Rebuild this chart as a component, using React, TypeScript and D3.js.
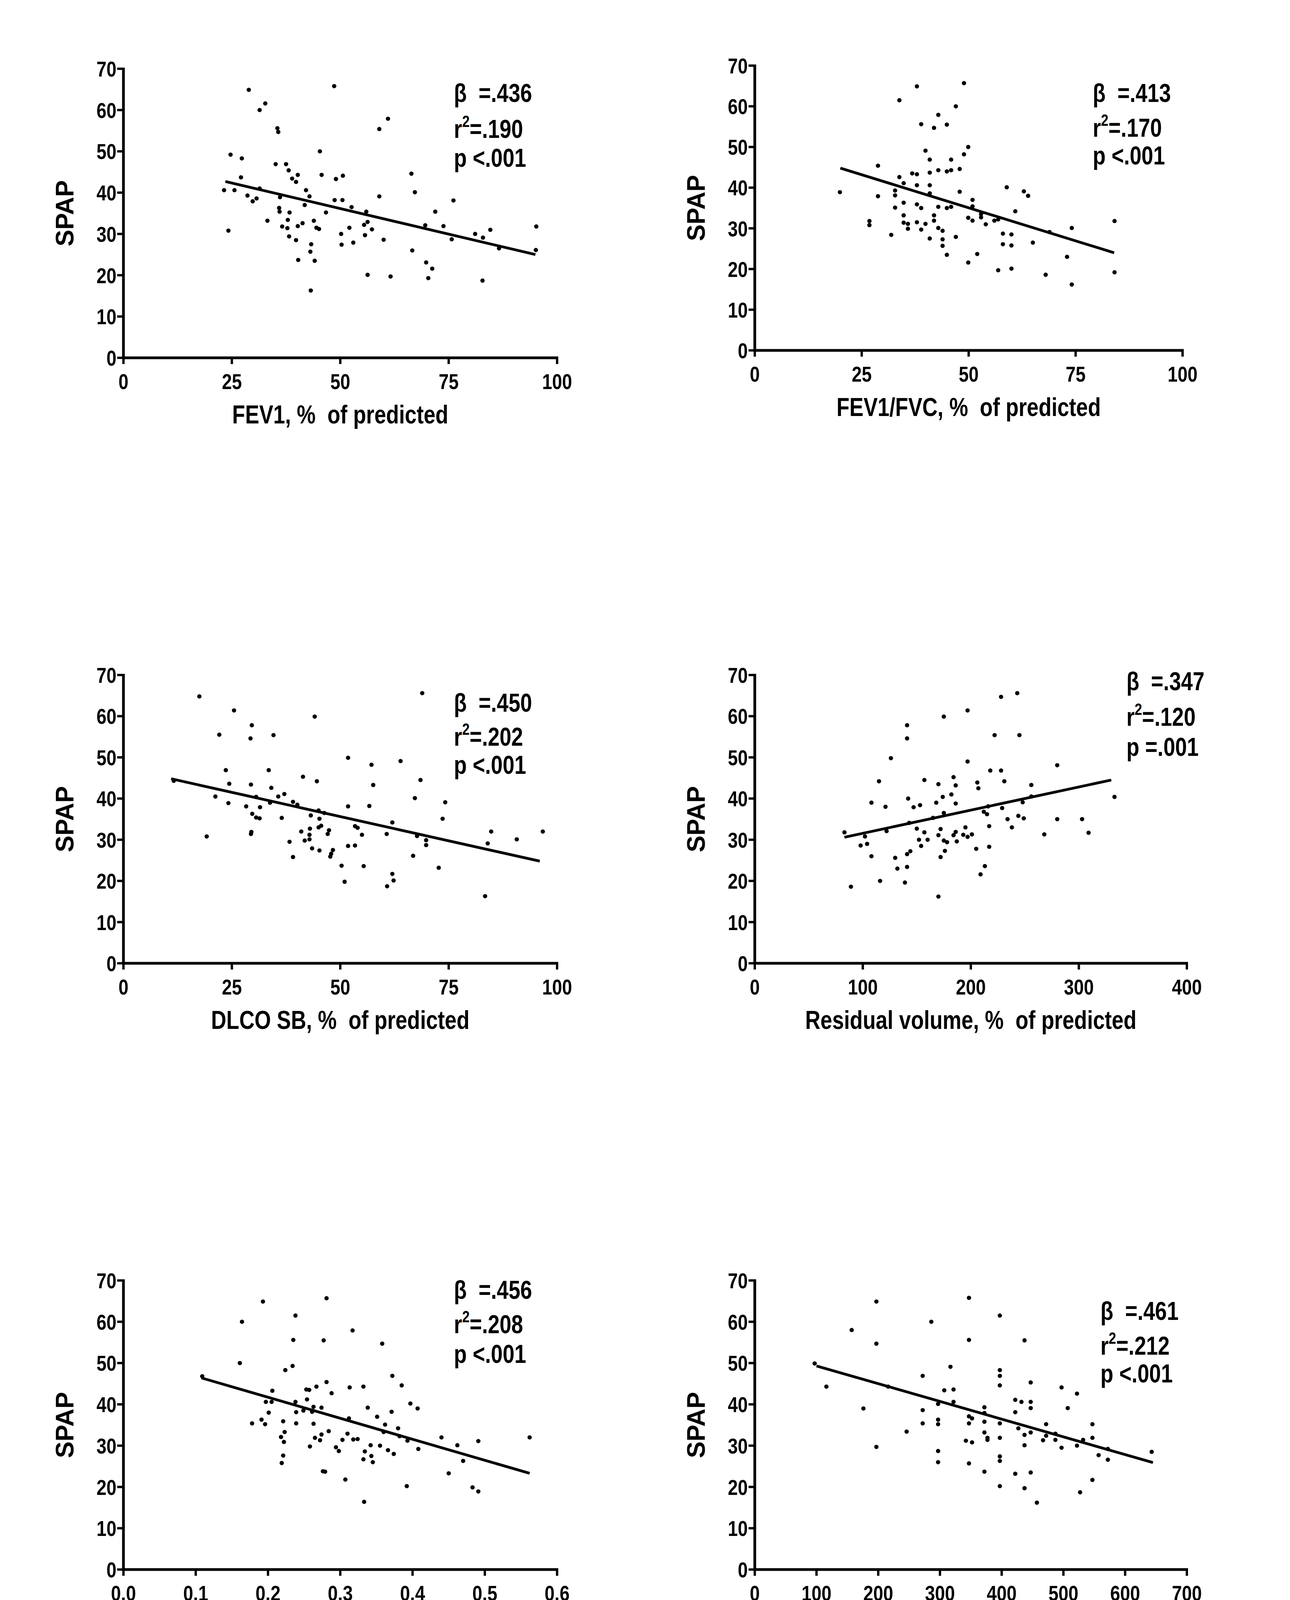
import * as d3 from 'd3';

type Pt = [number, number];

// FEV1, % of predicted vs SPAP
const fev1Points: Pt[] = [
  [28.9,64.9],[48.6,65.8],[32.7,61.6],[31.4,60.0],[61.0,57.9],[59.0,55.4],[35.5,55.6],[35.7,54.7],
  [24.7,49.2],[45.3,50.0],[27.3,48.3],[35.1,46.9],[37.5,46.9],[38.1,45.4],[66.4,44.6],[40.2,44.3],
  [45.7,44.3],[50.6,44.1],[27.1,43.7],[38.9,43.4],[49.0,43.3],[39.8,42.6],[23.2,40.6],[25.6,40.6],
  [31.4,41.0],[42.1,40.6],[67.2,40.1],[28.6,39.3],[42.9,39.1],[59.0,39.1],[36.1,38.9],[30.7,38.6],
  [29.8,37.9],[48.7,38.2],[50.5,38.2],[76.1,38.1],[41.8,37.0],[52.6,36.5],[35.9,36.3],[36.0,35.4],
  [56.0,35.4],[38.3,35.2],[46.7,35.2],[71.9,35.4],[37.9,33.4],[33.2,33.2],[43.9,33.2],[56.3,32.9],
  [41.3,32.6],[55.5,32.2],[69.6,32.1],[73.8,31.9],[95.2,31.8],[36.6,31.8],[40.2,31.9],[37.8,31.4],
  [52.1,31.5],[44.5,31.5],[45.1,31.2],[57.3,31.1],[84.6,31.0],[24.2,30.8],[50.2,30.0],[55.7,29.7],
  [81.1,30.0],[38.2,29.4],[82.9,29.1],[75.7,28.7],[60.0,28.6],[39.8,28.5],[53.0,27.9],[43.3,27.5],
  [50.3,27.4],[86.6,26.5],[95.1,26.1],[66.6,26.0],[43.1,25.7],[40.3,23.7],[44.1,23.5],[69.8,23.1],
  [71.2,21.6],[56.3,20.1],[61.6,19.7],[70.3,19.3],[82.8,18.7],[43.2,16.3],
];
const fev1Fit: Pt[] = [[23.5, 42.7], [95, 25.0]];

// FEV1/FVC, % of predicted vs SPAP
const ratioPoints: Pt[] = [
  [48.9,65.7],[37.9,64.9],[33.8,61.5],[47.0,60.0],[42.9,57.9],[38.9,55.6],[44.9,55.5],[41.9,54.7],
  [49.9,50.0],[39.9,49.1],[48.9,48.2],[40.9,46.9],[45.9,46.9],[28.8,45.4],[47.9,44.6],[42.9,44.3],
  [45.9,44.3],[44.9,44.0],[40.9,43.7],[36.8,43.5],[37.9,43.3],[33.8,42.6],[34.8,41.1],[37.9,40.6],
  [40.9,40.6],[58.9,40.1],[62.9,39.1],[19.9,38.9],[32.8,39.3],[47.9,39.0],[32.8,38.1],[28.8,37.9],
  [63.9,38.0],[40.9,38.6],[50.9,37.0],[34.8,36.3],[37.9,35.9],[42.9,35.3],[45.9,35.3],[32.8,35.1],
  [38.9,35.0],[44.9,35.0],[50.9,35.4],[60.9,34.2],[52.9,33.5],[34.8,33.2],[41.9,33.2],[52.9,32.7],
  [49.9,32.6],[56.9,32.2],[26.8,31.8],[41.9,31.9],[50.9,31.9],[56.0,31.9],[37.9,31.5],[34.8,31.4],
  [35.8,31.1],[39.9,31.1],[84.1,31.8],[54.0,31.0],[26.8,30.8],[42.9,30.1],[74.1,30.1],[35.8,29.9],
  [43.9,29.4],[38.9,29.7],[68.9,29.1],[58.0,28.7],[60.0,28.5],[31.9,28.4],[47.0,27.9],[40.9,27.5],
  [43.9,27.3],[65.0,26.5],[58.0,26.1],[60.0,25.8],[43.9,25.7],[52.0,23.7],[44.9,23.5],[73.0,23.0],
  [49.9,21.6],[60.0,20.1],[56.9,19.7],[84.1,19.2],[68.0,18.6],[74.1,16.2],
];
const ratioFit: Pt[] = [[20, 44.8], [84, 24.0]];

// DLCO SB, % of predicted vs SPAP
const dlcoPoints: Pt[] = [
  [68.9,65.6],[17.5,64.8],[25.5,61.4],[44.1,59.9],[29.6,57.8],[29.3,54.6],[22.1,55.5],[34.6,55.4],
  [51.8,49.9],[63.9,49.1],[57.2,48.2],[23.6,46.9],[33.5,46.9],[41.4,45.3],[68.5,44.5],[44.6,44.2],
  [24.4,43.6],[29.4,43.4],[57.6,43.3],[34.1,42.6],[11.6,44.3],[37.1,41.1],[35.7,40.5],[21.2,40.5],
  [30.6,40.4],[67.2,40.1],[39.1,39.2],[74.2,39.1],[33.8,39.0],[24.2,38.9],[40.1,38.5],[28.3,38.1],
  [51.8,38.1],[56.7,38.2],[31.5,37.9],[45.0,37.1],[29.7,36.3],[43.2,35.9],[46.3,36.5],[30.6,35.4],
  [31.4,35.2],[36.5,35.3],[45.2,35.1],[73.6,35.1],[62.0,34.2],[45.6,33.4],[45.0,33.0],[53.4,33.3],
  [54.0,32.9],[43.0,32.7],[47.4,32.3],[84.8,32.0],[96.7,32.0],[41.0,32.0],[29.5,31.9],[29.4,31.4],
  [47.1,31.4],[60.7,31.4],[55.0,31.2],[42.9,31.2],[67.7,30.9],[19.2,30.8],[69.8,29.9],[90.7,30.1],
  [42.9,30.1],[41.8,29.8],[38.3,29.5],[84.0,29.1],[69.8,28.7],[51.8,28.5],[53.4,28.6],[43.5,27.9],
  [45.2,27.4],[48.3,27.5],[47.9,26.6],[66.8,26.1],[47.7,25.9],[39.1,25.8],[50.3,23.7],[55.4,23.6],
  [72.7,23.2],[62.0,21.7],[62.3,20.1],[51.0,19.8],[60.8,18.7],[83.4,16.3],
];
const dlcoFit: Pt[] = [[11, 44.8], [96, 24.8]];

// Residual volume, % of predicted vs SPAP
const rvPoints: Pt[] = [
  [243,65.6],[228,64.7],[197,61.4],[175,59.9],[141,57.8],[141,54.6],[222,55.4],[245,55.4],
  [126,49.8],[197,49.0],[280,48.1],[218,46.8],[228,46.8],[184,45.2],[115,44.2],[157,44.5],
  [206,43.9],[170,43.5],[231,44.2],[186,43.2],[207,42.5],[256,43.3],[182,41.0],[174,40.4],
  [142,40.0],[256,40.5],[333,40.4],[108,39.0],[168,39.0],[186,38.8],[153,38.4],[121,38.0],
  [147,37.9],[248,39.1],[229,37.7],[216,38.1],[212,36.8],[175,36.5],[215,36.2],[165,35.3],
  [244,35.8],[249,35.2],[234,35.0],[280,35.0],[303,35.0],[143,34.1],[217,33.3],[238,33.0],
  [195,33.0],[150,32.7],[172,32.6],[122,32.1],[157,31.8],[186,31.9],[83,31.8],[309,31.7],
  [268,31.3],[201,31.3],[193,31.2],[170,31.1],[184,31.1],[102,30.8],[197,30.7],[152,30.0],
  [160,30.0],[175,29.8],[187,29.6],[178,29.4],[104,29.0],[98,28.6],[154,28.5],[217,28.3],
  [205,27.8],[144,27.2],[176,27.3],[141,26.5],[108,26.0],[172,25.8],[130,25.6],[141,23.4],
  [132,23.0],[213,23.6],[209,21.6],[116,20.0],[139,19.6],[89,18.6],[170,16.2],
];
const rvFit: Pt[] = [[83, 30.6], [330, 44.5]];

// IC/TLC vs SPAP
const ictlcPoints: Pt[] = [
  [0.281,65.7],[0.193,64.9],[0.238,61.5],[0.164,60.0],[0.317,57.9],[0.235,55.6],[0.277,55.5],[0.358,54.7],
  [0.161,50.0],[0.234,49.3],[0.224,48.3],[0.372,46.9],[0.109,46.8],[0.385,44.6],[0.267,44.3],[0.332,44.3],
  [0.313,44.1],[0.281,45.4],[0.253,43.6],[0.257,43.5],[0.206,43.3],[0.288,42.7],[0.254,41.2],[0.397,40.2],
  [0.197,40.6],[0.205,40.6],[0.238,40.6],[0.407,39.0],[0.338,39.2],[0.274,39.2],[0.263,39.4],[0.249,38.5],
  [0.261,38.2],[0.239,38.1],[0.201,38.0],[0.371,38.2],[0.351,37.0],[0.312,36.6],[0.191,36.3],[0.178,35.4],
  [0.196,35.2],[0.221,35.9],[0.239,35.4],[0.263,35.3],[0.362,35.1],[0.380,34.2],[0.284,33.5],[0.360,33.3],
  [0.223,33.3],[0.440,32.0],[0.562,32.0],[0.218,32.1],[0.274,32.7],[0.265,31.9],[0.310,32.9],[0.382,32.3],
  [0.324,31.6],[0.318,31.5],[0.303,31.4],[0.393,31.2],[0.491,31.1],[0.272,31.3],[0.222,30.9],[0.462,30.1],
  [0.342,30.1],[0.355,30.0],[0.258,29.8],[0.294,29.6],[0.408,29.2],[0.366,28.9],[0.298,28.7],[0.334,28.6],
  [0.374,28.0],[0.343,27.5],[0.221,27.6],[0.332,26.7],[0.345,26.0],[0.219,25.8],[0.470,26.3],[0.276,23.8],
  [0.279,23.7],[0.450,23.3],[0.307,21.8],[0.392,20.2],[0.483,19.9],[0.491,18.9],[0.333,16.4],
];
const ictlcFit: Pt[] = [[0.108, 46.4], [0.562, 23.3]];

// Distance (m) during 6MWT vs SPAP
const walkPoints: Pt[] = [
  [347,65.8],[197,64.9],[397,61.5],[286,60.0],[157,58.0],[197,54.7],[347,55.6],[437,55.5],
  [317,49.1],[97,49.9],[397,48.3],[397,46.9],[272,46.9],[447,45.3],[397,44.6],[497,44.1],
  [116,44.3],[216,44.3],[322,43.6],[307,43.4],[522,42.6],[422,41.1],[432,40.6],[447,40.6],
  [322,40.6],[297,40.1],[372,39.3],[507,39.1],[447,39.1],[176,39.0],[272,38.6],[422,38.1],
  [372,37.9],[347,37.1],[352,36.6],[297,36.3],[372,35.8],[397,35.4],[547,35.2],[272,35.4],
  [297,35.2],[472,35.2],[347,35.4],[427,34.2],[447,33.2],[372,33.2],[246,33.4],[487,32.9],
  [437,32.6],[472,32.4],[547,31.9],[397,31.9],[377,31.9],[377,31.4],[532,31.4],[487,31.4],
  [467,31.3],[342,31.2],[352,30.8],[522,30.0],[437,30.1],[197,29.7],[497,29.5],[572,29.2],
  [643,28.5],[297,28.7],[557,27.7],[397,27.4],[572,26.6],[397,26.3],[297,26.0],[347,25.7],
  [372,23.7],[447,23.5],[422,23.2],[547,21.7],[397,20.2],[437,19.7],[527,18.7],[457,16.2],
];
const walkFit: Pt[] = [[100, 49.3], [645, 25.9]];

const yTicks = [0, 10, 20, 30, 40, 50, 60, 70];

interface Panel {
  points: Pt[];
  fit: Pt[];
  xDomain: [number, number];
  xTicks: number[];
  xFmt: (v: number) => string;
  xLabel: string;
  stats: [string, string, string];
  left: number; right: number; bottom: number; top: number;
  statX: number; statY: [number, number, number];
}

const panels: Panel[] = [
  { points: fev1Points, fit: fev1Fit, xDomain: [0, 100], xTicks: [0, 25, 50, 75, 100], xFmt: String,
    xLabel: 'FEV1, %  of predicted', stats: ['β  =.436', '=.190', 'p <.001'],
    left: 316, right: 1426, bottom: 916, top: 176, statX: 0.762, statY: [62, 53.3, 46.3] },
  { points: ratioPoints, fit: ratioFit, xDomain: [0, 100], xTicks: [0, 25, 50, 75, 100], xFmt: String,
    xLabel: 'FEV1/FVC, %  of predicted', stats: ['β  =.413', '=.170', 'p <.001'],
    left: 1932, right: 3027, bottom: 897, top: 168, statX: 0.79, statY: [61.1, 52.5, 45.7] },
  { points: dlcoPoints, fit: dlcoFit, xDomain: [0, 100], xTicks: [0, 25, 50, 75, 100], xFmt: String,
    xLabel: 'DLCO SB, %  of predicted', stats: ['β  =.450', '=.202', 'p <.001'],
    left: 316, right: 1426, bottom: 2466, top: 1728, statX: 0.762, statY: [61.1, 52.8, 46] },
  { points: rvPoints, fit: rvFit, xDomain: [0, 400], xTicks: [0, 100, 200, 300, 400], xFmt: String,
    xLabel: 'Residual volume, %  of predicted', stats: ['β  =.347', '=.120', 'p =.001'],
    left: 1932, right: 3038, bottom: 2466, top: 1728, statX: 0.86, statY: [66.3, 57.7, 50.4] },
  { points: ictlcPoints, fit: ictlcFit, xDomain: [0, 0.6], xTicks: [0, 0.1, 0.2, 0.3, 0.4, 0.5, 0.6],
    xFmt: d3.format('.1f'), xLabel: 'IC/TLC', stats: ['β  =.456', '=.208', 'p <.001'],
    left: 316, right: 1426, bottom: 4018, top: 3278, statX: 0.762, statY: [65.6, 57.2, 50] },
  { points: walkPoints, fit: walkFit, xDomain: [0, 700], xTicks: [0, 100, 200, 300, 400, 500, 600, 700],
    xFmt: String, xLabel: 'Distance (m) during 6MWT', stats: ['β  =.461', '=.212', 'p <.001'],
    left: 1932, right: 3038, bottom: 4018, top: 3278, statX: 0.80, statY: [60.4, 52, 45.3] },
];

const font = "'Liberation Sans', Arial, sans-serif";
const squeeze = 0.82; // reference text is a condensed bold face

function Narrow({ x, y, anchor = 'start', size, children }: {
  x: number; y: number; anchor?: string; size: number; children: React.ReactNode;
}) {
  return (
    <text transform={`translate(${x},${y}) scale(${squeeze},1)`} textAnchor={anchor}
      fontSize={size} fontWeight="bold" fontFamily={font} style={{ whiteSpace: 'pre' }}>
      {children}
    </text>
  );
}

function Scatter({ p }: { p: Panel }) {
  const x = d3.scaleLinear().domain(p.xDomain).range([p.left, p.right]);
  const y = d3.scaleLinear().domain([0, 70]).range([p.bottom, p.top]);
  const line = d3.line<Pt>().x((d) => x(d[0])).y((d) => y(d[1]));
  const sx = p.left + p.statX * (p.right - p.left);
  const axisW = 7;
  return (
    <g>
      {p.points.map((d, i) => (
        <circle key={i} cx={x(d[0])} cy={y(d[1])} r={5.5} fill="#000" />
      ))}
      <path d={line(p.fit) ?? ''} stroke="#000" strokeWidth={7} fill="none" />
      <line x1={p.left} x2={p.left} y1={p.top - 3} y2={p.bottom + axisW / 2} stroke="#000" strokeWidth={axisW} />
      <line x1={p.left} x2={p.right + 3} y1={p.bottom} y2={p.bottom} stroke="#000" strokeWidth={axisW} />
      {yTicks.map((t) => (
        <g key={t}>
          <line x1={p.left - 16} x2={p.left} y1={y(t)} y2={y(t)} stroke="#000" strokeWidth={6} />
          <Narrow x={p.left - 18} y={y(t) + 20} anchor="end" size={56}>{t}</Narrow>
        </g>
      ))}
      {p.xTicks.map((t) => (
        <g key={t}>
          <line x1={x(t)} x2={x(t)} y1={p.bottom} y2={p.bottom + 16} stroke="#000" strokeWidth={6} />
          <Narrow x={x(t)} y={p.bottom + 80} anchor="middle" size={56}>{p.xFmt(t)}</Narrow>
        </g>
      ))}
      <Narrow x={(p.left + p.right) / 2} y={p.bottom + 168} anchor="middle" size={66}>{p.xLabel}</Narrow>
      <text transform={`translate(${p.left - 128},${(p.top + p.bottom) / 2}) rotate(-90)`} textAnchor="middle"
        fontSize={64} fontWeight="bold" fontFamily={font}>SPAP</text>
      <Narrow x={sx} y={y(p.statY[0])} size={66}>{p.stats[0]}</Narrow>
      <Narrow x={sx} y={y(p.statY[1])} size={66}>
        r<tspan fontSize={42} dy={-28}>2</tspan><tspan dy={28}>{p.stats[1]}</tspan>
      </Narrow>
      <Narrow x={sx} y={y(p.statY[2])} size={66}>{p.stats[2]}</Narrow>
    </g>
  );
}

export default function App() {
  return (
    <svg width={3302} height={4356} viewBox="0 0 3302 4356"
      style={{ display: 'block', position: 'absolute', left: 0, top: 0, background: '#fff' }}>
      <rect width={3302} height={4356} fill="#fff" />
      {panels.map((p, i) => <Scatter key={i} p={p} />)}
    </svg>
  );
}
